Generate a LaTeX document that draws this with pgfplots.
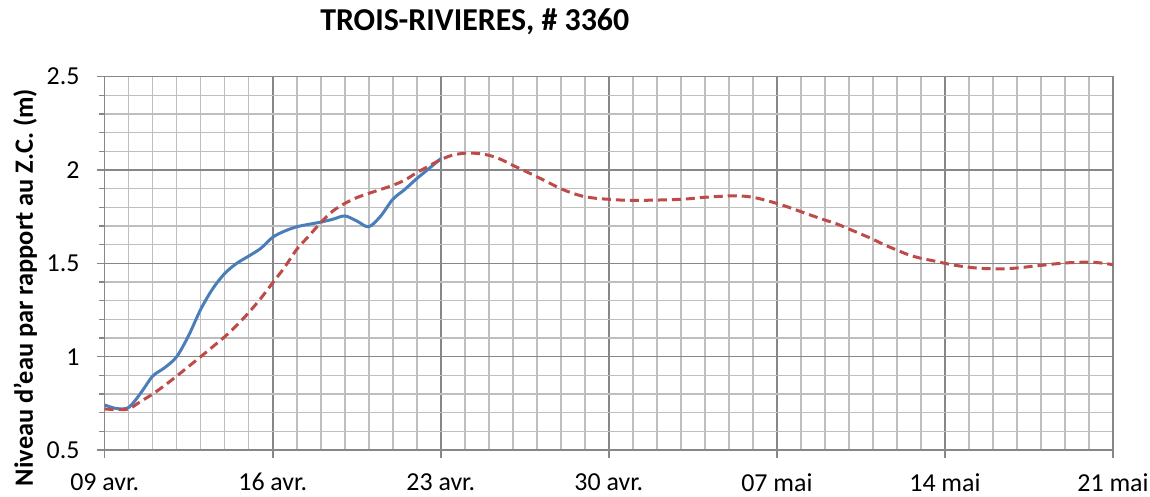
\documentclass[border=0pt]{standalone}
\usepackage{fontspec}
\setmainfont{Carlito}
\usepackage{pgfplots}
\pgfplotsset{compat=1.18}
\definecolor{obsblue}{HTML}{4A7EBB}
\definecolor{prevred}{HTML}{BE4B48}
\definecolor{majgrid}{HTML}{878787}
\definecolor{mingrid}{HTML}{BEBEBE}
\begin{document}
\begin{tikzpicture}[x=1bp,y=1bp]
\path[use as bounding box] (0,0) rectangle (1150,497);
\begin{axis}[
  at={(104.7bp,47bp)}, anchor=south west,
  scale only axis, width=1008.3bp, height=373.3bp,
  xmin=0, xmax=42, ymin=0.5, ymax=2.5,
  xtick={0,7,...,42},
  xticklabels={09 avr.,16 avr.,23 avr.,30 avr.,07 mai,14 mai,21 mai},
  ytick={0.5,1,1.5,2,2.5},
  yticklabels={0.5,1,1.5,2,2.5},
  minor x tick num=6, minor y tick num=4,
  grid=both,
  major grid style={majgrid, line width=1.5bp},
  minor grid style={mingrid, line width=1.5bp},
  axis line style={majgrid, line width=1.5bp},
  tick align=outside, tick pos=left,
  major tick length=8bp, minor tick length=6bp,
  every tick/.style={majgrid, line width=1.5bp},
  minor x tick style={draw=none},
  tick label style={font=\fontsize{26}{30}\selectfont, text=black},
  xticklabel style={yshift=-14bp, inner sep=1bp},
  yticklabel style={xshift=-16bp, inner sep=1bp},
  title={\bfseries TROIS-RIVIERES, \# 3360},
  title style={font=\fontsize{32}{37}\selectfont, at={(axis description cs:0.367,1.130)}, anchor=center},
  ylabel={\bfseries Niveau d'eau par rapport au Z.C. (m)},
  ylabel style={font=\fontsize{26.5}{30}\selectfont, at={(axis description cs:-0.079,0.435)}, anchor=center},
]
\addplot[obsblue, line width=3bp, smooth] coordinates {
(0,0.741) (0.5,0.722) (1,0.728) (1.5,0.805) (2,0.896) (2.5,0.941) (3,1.0)
(3.5,1.114) (4,1.254) (4.5,1.364) (5,1.446) (5.5,1.500) (6,1.539) (6.5,1.580)
(7,1.640) (7.5,1.673) (8,1.696) (8.5,1.709) (9,1.721) (9.5,1.736) (10,1.754)
(10.5,1.727) (11,1.696) (11.5,1.754) (12,1.843) (12.5,1.896) (13,1.954)
(13.5,2.007) (14,2.061)
};
\addplot[prevred, line width=3bp, smooth, dash pattern=on 9bp off 5bp] coordinates {
(0,0.72) (0.5,0.716) (1,0.72) (1.5,0.76) (2,0.80) (2.5,0.846) (3,0.896)
(3.5,0.948) (4,1.0) (4.5,1.053) (5,1.107) (5.5,1.168) (6,1.236) (6.5,1.312)
(7,1.396) (7.5,1.48) (8,1.575) (8.5,1.646) (9,1.718) (9.5,1.78) (10,1.821)
(10.5,1.852) (11,1.875) (11.5,1.896) (12,1.918) (12.5,1.946) (13,1.986)
(13.5,2.021) (14,2.056) (14.5,2.08) (15,2.09) (15.5,2.089) (16,2.079)
(16.5,2.057) (17,2.025) (17.5,1.995) (18,1.964) (18.5,1.932) (19,1.90)
(19.5,1.875) (20,1.857) (20.5,1.848) (21,1.843) (21.5,1.839) (22,1.837)
(23,1.839) (24,1.843) (24.5,1.848) (25,1.854) (25.5,1.858) (26,1.861)
(26.5,1.861) (27,1.854) (27.5,1.839) (28,1.821) (28.5,1.80) (29,1.777)
(29.5,1.754) (30,1.732) (30.5,1.711) (31,1.684) (31.5,1.657) (32,1.629)
(32.5,1.598) (33,1.571) (33.5,1.545) (34,1.527) (34.5,1.514) (35,1.50)
(35.5,1.488) (36,1.479) (36.5,1.473) (37,1.471) (37.5,1.471) (38,1.475)
(38.5,1.482) (39,1.489) (39.5,1.496) (40,1.502) (40.5,1.505) (41,1.507)
(41.5,1.502) (42,1.493)
};
\end{axis}
\end{tikzpicture}
\end{document}
